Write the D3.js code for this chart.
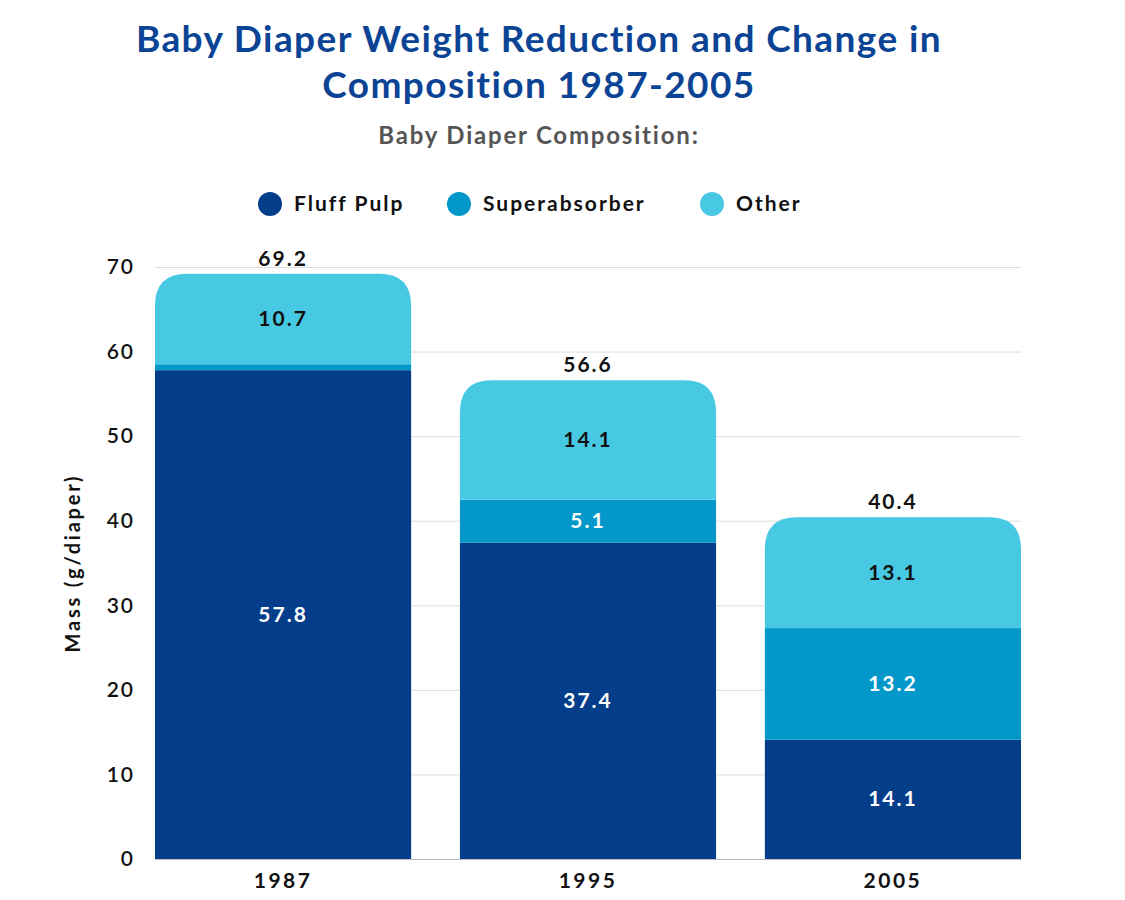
<!DOCTYPE html>
<html>
<head>
<meta charset="utf-8">
<script src="https://cdn.jsdelivr.net/npm/d3@7"></script>
<style>
  body { margin: 0; background: #fff; }
</style>
</head>
<body>
<svg width="1125" height="900" font-family="Lato, 'Open Sans', sans-serif"></svg>
<script>
  // data
  const years = ['1987', '1995', '2005'];
  const fluffPulp = [57.8, 37.4, 14.1];
  const superabsorber = [0.7, 5.1, 13.2];
  const other = [10.7, 14.1, 13.1];
  const totals = [69.2, 56.6, 40.4];
  const seriesNames = ['Fluff Pulp', 'Superabsorber', 'Other'];
  const yTicks = [0, 10, 20, 30, 40, 50, 60, 70];

  const colors = ['#043e8a', '#0398c9', '#48c9e3'];
  const labelColors = ['#fff', '#fff', '#111'];

  const svg = d3.select('svg');
  const margin = { top: 267, right: 104, bottom: 41, left: 155 };
  const width = +svg.attr('width');
  const height = +svg.attr('height');
  const innerWidth = width - margin.left - margin.right;
  const innerHeight = height - margin.top - margin.bottom;

  const rows = years.map((y, i) => ({
    year: y,
    'Fluff Pulp': fluffPulp[i],
    'Superabsorber': superabsorber[i],
    'Other': other[i],
    total: totals[i]
  }));

  const stacked = d3.stack().keys(seriesNames)(rows);

  const xScale = d3.scaleBand()
    .domain(years)
    .range([0, innerWidth])
    .paddingInner(0.16)
    .paddingOuter(0);

  const yScale = d3.scaleLinear()
    .domain([0, 70])
    .range([innerHeight, 0]);

  // titles
  const title = svg.append('g')
    .attr('fill', '#0b4494')
    .attr('font-size', 37).attr('font-weight', 700)
    .attr('letter-spacing', 1.4)
    .attr('text-anchor', 'middle');
  title.append('text').attr('x', 539).attr('y', 52)
    .text('Baby Diaper Weight Reduction and Change in');
  title.append('text').attr('x', 539).attr('y', 98)
    .text('Composition 1987-2005');

  svg.append('text')
    .attr('x', 539).attr('y', 144)
    .attr('text-anchor', 'middle')
    .attr('fill', '#555')
    .attr('font-size', 24).attr('font-weight', 700)
    .attr('letter-spacing', 1.8)
    .text('Baby Diaper Composition:');

  // legend
  const legendX = [270, 459, 712];
  const legend = svg.append('g').attr('class', 'legend');
  seriesNames.forEach((name, i) => {
    const item = legend.append('g')
      .attr('transform', `translate(${legendX[i]},204)`);
    item.append('circle').attr('r', 12).attr('fill', colors[i]);
    item.append('text')
      .attr('x', 24).attr('y', 7)
      .attr('font-size', 21).attr('font-weight', 700)
      .attr('letter-spacing', 2)
      .attr('fill', '#111')
      .text(name);
  });

  const g = svg.append('g')
    .attr('transform', `translate(${margin.left},${margin.top})`);

  // grid + y axis
  const yAxis = d3.axisLeft(yScale)
    .tickValues(yTicks)
    .tickSize(-innerWidth)
    .tickPadding(20);
  const yAxisG = g.append('g').call(yAxis);
  yAxisG.attr('font-family', null);
  yAxisG.select('.domain').remove();
  yAxisG.selectAll('.tick line').attr('stroke', '#ddd');
  yAxisG.selectAll('.tick text')
    .attr('font-size', 21).attr('font-weight', 600)
    .attr('letter-spacing', 2)
    .attr('fill', '#111');

  g.append('text')
    .attr('transform', 'rotate(-90)')
    .attr('x', -innerHeight / 2).attr('y', -75)
    .attr('text-anchor', 'middle')
    .attr('font-size', 20).attr('font-weight', 700)
    .attr('letter-spacing', 2.8)
    .attr('fill', '#111')
    .text('Mass (g/diaper)');

  // bars, top segment with rounded corners
  const radius = 32;
  const topPath = (x, w, y0, y1) => {
    const r = Math.min(radius, (y0 - y1));
    return `M${x},${y0}V${y1 + r}Q${x},${y1} ${x + r},${y1}H${x + w - r}Q${x + w},${y1} ${x + w},${y1 + r}V${y0}Z`;
  };

  stacked.forEach((layer, li) => {
    const lg = g.append('g').attr('fill', colors[li]);
    layer.forEach(d => {
      const x = xScale(d.data.year);
      const w = xScale.bandwidth();
      const y0 = yScale(d[0]);
      const y1 = yScale(d[1]);
      if (li === stacked.length - 1) {
        lg.append('path').attr('d', topPath(x, w, y0, y1));
      } else {
        lg.append('rect')
          .attr('x', x).attr('y', y1)
          .attr('width', w).attr('height', y0 - y1);
      }
      if (d[1] - d[0] >= 3) {
        g.append('text')
          .attr('x', x + w / 2)
          .attr('y', (y0 + y1) / 2 + 7)
          .attr('text-anchor', 'middle')
          .attr('font-size', 21).attr('font-weight', 700)
          .attr('letter-spacing', 2)
          .attr('fill', labelColors[li])
          .text(d.data[layer.key].toFixed(1));
      }
    });
  });

  // totals
  g.selectAll('.total').data(rows).enter().append('text')
    .attr('class', 'total')
    .attr('x', d => xScale(d.year) + xScale.bandwidth() / 2)
    .attr('y', d => yScale(d.total) - 8)
    .attr('text-anchor', 'middle')
    .attr('font-size', 21).attr('font-weight', 700)
    .attr('letter-spacing', 2)
    .attr('fill', '#111')
    .text(d => d.total.toFixed(1));

  // x axis
  const xAxisG = g.append('g')
    .attr('transform', `translate(0,${innerHeight})`)
    .call(d3.axisBottom(xScale).tickSize(0).tickPadding(14));
  xAxisG.attr('font-family', null);
  xAxisG.select('.domain').attr('stroke', '#bbb');
  xAxisG.selectAll('.tick text')
    .attr('font-size', 21).attr('font-weight', 700)
    .attr('letter-spacing', 2.5)
    .attr('fill', '#111');
</script>
</body>
</html>
